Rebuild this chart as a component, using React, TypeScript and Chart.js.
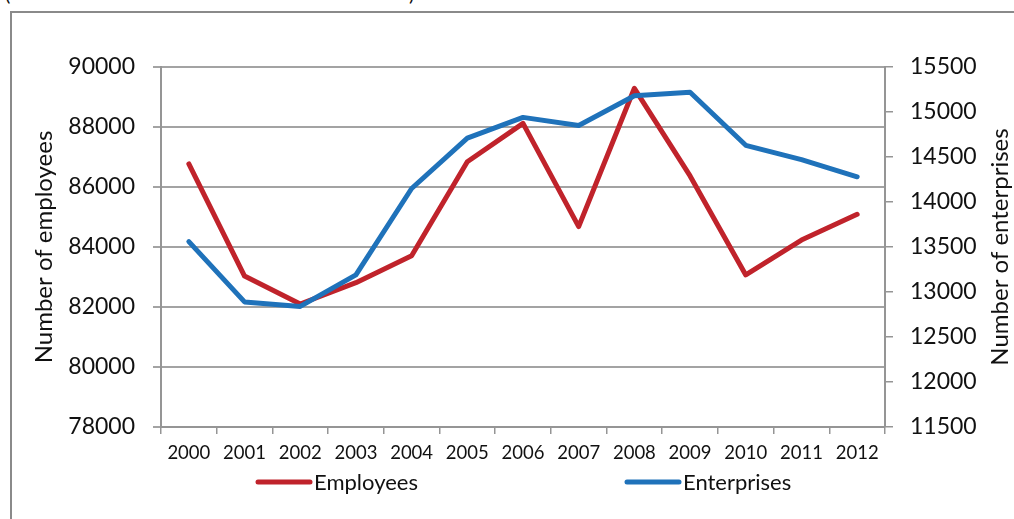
import React, { useEffect, useRef } from "react";
import { Chart, registerables } from "chart.js";

Chart.register(...registerables);

const years = ["2000", "2001", "2002", "2003", "2004", "2005", "2006", "2007", "2008", "2009", "2010", "2011", "2012"];
const employees = [86770, 83030, 82100, 82810, 83710, 86840, 88120, 84680, 89290, 86370, 83070, 84230, 85090];
const enterprises = [13560, 12890, 12840, 13190, 14150, 14710, 14940, 14850, 15180, 15220, 14630, 14470, 14280];
const leftTitle = "Number of employees";
const rightTitle = "Number of enterprises";

const FONT = "Lato, 'Open Sans', sans-serif";
const RED = "#C0232B";
const BLUE = "#1F72BA";
const GRID = "#a3a3a3";
const AXIS = "#959595";

const legendPlugin = {
  id: "customLegend",
  afterDraw(chart: any) {
    const { ctx, chartArea } = chart;
    const offsets = [95, 464];
    const y = chartArea.bottom + 55;
    ctx.save();
    ctx.font = `22px ${FONT}`;
    ctx.textBaseline = "middle";
    ctx.textAlign = "left";
    chart.data.datasets.forEach((ds: any, i: number) => {
      const x0 = chartArea.left + offsets[i];
      ctx.strokeStyle = ds.borderColor;
      ctx.lineWidth = 5;
      ctx.lineCap = "round";
      ctx.beginPath();
      ctx.moveTo(x0 + 2, y);
      ctx.lineTo(x0 + 54, y);
      ctx.stroke();
      ctx.fillStyle = "#111";
      ctx.fillText(ds.label, x0 + 58, y + 1);
    });
    // right axis title, reading bottom-to-top
    ctx.translate(chart.width - 14, (chartArea.top + chartArea.bottom) / 2);
    ctx.rotate(-Math.PI / 2);
    ctx.font = `24px ${FONT}`;
    ctx.textAlign = "center";
    ctx.fillText(rightTitle, 0, 0);
    ctx.restore();
  },
};

const plain = (v: any) => String(v);

export default function App() {
  const ref = useRef<HTMLCanvasElement | null>(null);

  useEffect(() => {
    document.body.style.margin = "0";
    document.body.style.overflow = "hidden";
    const chart = new Chart(ref.current as HTMLCanvasElement, {
      type: "line",
      data: {
        labels: years,
        datasets: [
          {
            label: "Employees",
            data: employees,
            yAxisID: "y",
            borderColor: RED,
            backgroundColor: RED,
            borderWidth: 5,
            borderCapStyle: "round",
            borderJoinStyle: "round",
            pointRadius: 0,
            tension: 0,
            order: 1,
          },
          {
            label: "Enterprises",
            data: enterprises,
            yAxisID: "y1",
            borderColor: BLUE,
            backgroundColor: BLUE,
            borderWidth: 5,
            borderCapStyle: "round",
            borderJoinStyle: "round",
            pointRadius: 0,
            tension: 0,
            order: 0,
          },
        ],
      },
      options: {
        responsive: false,
        animation: false,
        layout: { padding: { left: 28, right: 0, top: 67, bottom: 0 } },
        plugins: { legend: { display: false }, tooltip: { enabled: false } },
        scales: {
          x: {
            type: "category",
            offset: true,
            grid: { display: true, drawOnChartArea: false, drawTicks: true, tickLength: 7, color: AXIS, lineWidth: 1.5, offset: true },
            border: { display: true, color: AXIS, width: 2 },
            ticks: { color: "#111", font: { family: FONT, size: 18.5 }, padding: 8, maxRotation: 0, autoSkip: false },
            afterFit: (s: any) => { s.height = 92; },
          },
          y: {
            position: "left",
            min: 78000,
            max: 90000,
            ticks: { stepSize: 2000, color: "#111", font: { family: FONT, size: 23 }, padding: 18, callback: plain },
            grid: { color: GRID, lineWidth: 2, tickLength: 8, drawTicks: true },
            border: { display: true, color: AXIS, width: 2 },
            title: { display: true, text: leftTitle, color: "#111", font: { family: FONT, size: 24 }, padding: 2 },
            afterFit: (s: any) => { s.width = 133; },
          },
          y1: {
            position: "right",
            min: 11500,
            max: 15500,
            ticks: { stepSize: 500, color: "#111", font: { family: FONT, size: 23 }, padding: 17, callback: plain },
            grid: { drawOnChartArea: false, color: AXIS, lineWidth: 1.5, tickLength: 8, drawTicks: true },
            border: { display: true, color: AXIS, width: 2 },
            title: { display: false },
            afterFit: (s: any) => { s.width = 129; },
          },
        },
      } as any,
      plugins: [legendPlugin],
    });
    return () => chart.destroy();
  }, []);

  return (
    <div style={{ position: "fixed", left: 0, top: 0, width: 1014, height: 519, overflow: "hidden", background: "#fff" }}>
      <div style={{ position: "absolute", left: 5, top: -19, font: `20px ${FONT}`, color: "#111" }}>(</div>
      <div style={{ position: "absolute", left: 409, top: -19, font: `20px ${FONT}`, color: "#111" }}>)</div>
      <div style={{ position: "absolute", left: 10, top: 11, width: 1020, height: 530, border: "2px solid #8a8a8a", boxSizing: "border-box" }} />
      <canvas ref={ref} width={1014} height={519} style={{ position: "absolute", left: 0, top: 0, width: 1014, height: 519 }} />
    </div>
  );
}
